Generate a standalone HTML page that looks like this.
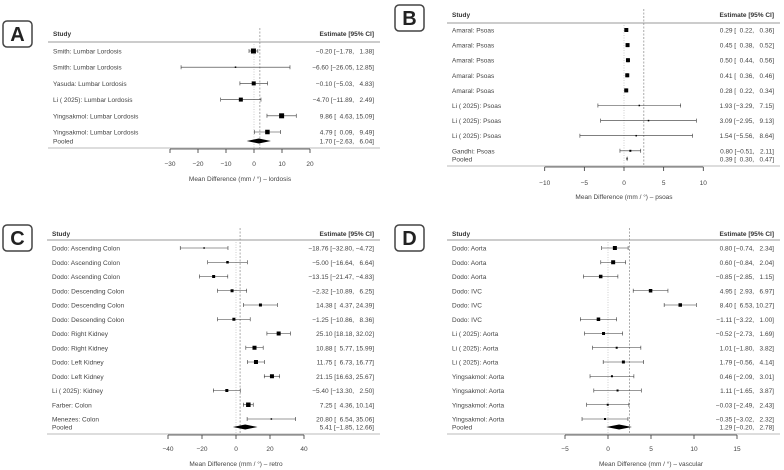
<!DOCTYPE html>
<html><head><meta charset="utf-8"><style>
body{margin:0;background:#fff;width:784px;height:470px;overflow:hidden}
svg{display:block;font-family:"Liberation Sans",sans-serif}
</style></head><body>
<svg id="chart" width="784" height="470" viewBox="0 0 784 470"></svg>
<script>
// Panel A – lordosis
const studiesA=["Smith: Lumbar Lordosis","Smith: Lumbar Lordosis","Yasuda: Lumbar Lordosis","Li ( 2025): Lumbar Lordosis","Yingsakmol: Lumbar Lordosis","Yingsakmol: Lumbar Lordosis"];
const estA=[-0.20,-6.60,-0.10,-4.70,9.86,4.79];
const loA=[-1.78,-26.05,-5.03,-11.89,4.63,0.09];
const hiA=[1.38,12.85,4.83,2.49,15.09,9.49];
const wA=[5,1.5,4,4,5,4.5];
const pooledA=[1.70,-2.63,6.04];
const ticksA=[-30,-20,-10,0,10,20];
// Panel B – psoas
const studiesB=["Amaral: Psoas","Amaral: Psoas","Amaral: Psoas","Amaral: Psoas","Amaral: Psoas","Li ( 2025): Psoas","Li ( 2025): Psoas","Li ( 2025): Psoas","Gandhi: Psoas"];
const estB=[0.29,0.45,0.50,0.41,0.28,1.93,3.09,1.54,0.80];
const loB=[0.22,0.38,0.44,0.36,0.22,-3.29,-2.95,-5.56,-0.51];
const hiB=[0.36,0.52,0.56,0.46,0.34,7.15,9.13,8.64,2.11];
const wB=[4,4,4,4,4,1.5,1.5,1.5,2];
const pooledB=[0.39,0.30,0.47];
const ticksB=[-10,-5,0,5,10];
// Panel C – retro
const studiesC=["Dodo: Ascending Colon","Dodo: Ascending Colon","Dodo: Ascending Colon","Dodo: Descending Colon","Dodo: Descending Colon","Dodo: Descending Colon","Dodo: Right Kidney","Dodo: Right Kidney","Dodo: Left Kidney","Dodo: Left Kidney","Li ( 2025): Kidney","Farber: Colon","Menezes: Colon"];
const estC=[-18.76,-5.00,-13.15,-2.32,14.38,-1.25,25.10,10.88,11.75,21.15,-5.40,7.25,20.80];
const loC=[-32.80,-16.64,-21.47,-10.89,4.37,-10.86,18.18,5.77,6.73,16.63,-13.30,4.36,6.54];
const hiC=[-4.72,6.64,-4.83,6.25,24.39,8.36,32.02,15.99,16.77,25.67,2.50,10.14,35.06];
const wC=[1.5,2.5,3,3,3,3,4,4,4,4,3,4.5,1.5];
const pooledC=[5.41,-1.85,12.66];
const ticksC=[-40,-20,0,20,40];
// Panel D – vascular
const studiesD=["Dodo: Aorta","Dodo: Aorta","Dodo: Aorta","Dodo: IVC","Dodo: IVC","Dodo: IVC","Li ( 2025): Aorta","Li ( 2025): Aorta","Li ( 2025): Aorta","Yingsakmol: Aorta","Yingsakmol: Aorta","Yingsakmol: Aorta","Yingsakmol: Aorta"];
const estD=[0.80,0.60,-0.85,4.95,8.40,-1.11,-0.52,1.01,1.79,0.46,1.11,-0.03,-0.35];
const loD=[-0.74,-0.84,-2.85,2.93,6.53,-3.22,-2.73,-1.80,-0.56,-2.09,-1.65,-2.49,-3.02];
const hiD=[2.34,2.04,1.15,6.97,10.27,1.00,1.69,3.82,4.14,3.01,3.87,2.43,2.32];
const wD=[4,4,3.5,3.5,3.5,3.5,3,2,3,2,2,2,2];
const pooledD=[1.29,-0.20,2.78];
const ticksD=[-5,0,5,10,15];

const NS="http://www.w3.org/2000/svg";
const svg=document.getElementById('chart');
function mk(tag,attrs,parent,text){const e=document.createElementNS(NS,tag);for(const k in attrs)e.setAttribute(k,attrs[k]);if(text!==undefined)e.textContent=text;(parent||svg).appendChild(e);return e;}
function fmt(v){return (v<0?'\u2212':'')+Math.abs(v).toFixed(2);}
function fmtP(v,w){let s=fmt(v);return v>=0&&Math.abs(v)<10&&w?'\u2007'+s:s;}

function panel(cfg){
  const g=mk('g',{});
  
  
  const L=cfg.left,R=cfg.right;
  const sx=v=>cfg.x0+v*cfg.ppu;
  const b=mk('rect',{x:cfg.bx,y:cfg.by,width:29,height:26,rx:4,fill:'#fff',stroke:'#444','stroke-width':1.5},g);
  
  const bt=mk('text',{x:cfg.bx+14.5,y:cfg.by+20,'font-size':20,'font-weight':'bold','text-anchor':'middle',fill:'#222'},g,cfg.letter);
  
  const h1=mk('text',{x:L+5,y:cfg.hy,'font-size':6.5,'font-weight':'bold',fill:'#333'},g,'Study');
  
  const h2=mk('text',{x:R-6,y:cfg.hy,'font-size':6.5,'font-weight':'bold','text-anchor':'end',fill:'#333'},g,'Estimate [95% CI]');
  
  mk('line',{x1:L,x2:R,y1:cfg.hl,y2:cfg.hl,stroke:'#999','stroke-width':1},g);
  mk('line',{x1:L,x2:R,y1:cfg.bl,y2:cfg.bl,stroke:'#bbb','stroke-width':1},g);
  const zl=mk('line',{x1:sx(0),x2:sx(0),y1:cfg.hl+2,y2:cfg.bl,stroke:'#bbb','stroke-width':0.7,'stroke-dasharray':'1,1.5'},g);
  
  const rl=mk('line',{x1:sx(cfg.ref),x2:sx(cfg.ref),y1:cfg.hy-8,y2:cfg.bl,stroke:'#888','stroke-width':0.7,'stroke-dasharray':'2,1.5'},g);
  
  const n=cfg.studies.length;
  for(let i=0;i<n;i++){
    const y=cfg.ry0+i*cfg.dy;
    const t=mk('text',{x:L+5,y:y+2.5,'font-size':6.5,fill:'#444'},g,cfg.studies[i]);
    
    const ci=mk('line',{x1:sx(cfg.lo[i]),x2:sx(cfg.hi[i]),y1:y,y2:y,stroke:'#333','stroke-width':0.6},g);
    
    mk('line',{x1:sx(cfg.lo[i]),x2:sx(cfg.lo[i]),y1:y-2,y2:y+2,stroke:'#333','stroke-width':0.6},g);
    mk('line',{x1:sx(cfg.hi[i]),x2:sx(cfg.hi[i]),y1:y-2,y2:y+2,stroke:'#333','stroke-width':0.6},g);
    const s=cfg.w[i];
    const sq=mk('rect',{x:sx(cfg.est[i])-s/2,y:y-s/2,width:s,height:s,fill:'#000'},g);
    
    const et=mk('text',{x:R-6,y:y+2.5,'font-size':6.5,'text-anchor':'end',fill:'#444'},g,
      fmt(cfg.est[i])+' ['+fmtP(cfg.lo[i],1)+', '+fmtP(cfg.hi[i],1)+']');
    
  }
  const py=cfg.ry0+(n-1)*cfg.dy+cfg.pgap;
  const pt=mk('text',{x:L+5,y:py+2.5,'font-size':6.5,fill:'#444'},g,'Pooled');
  
  const p=cfg.pooled;
  const d=mk('polygon',{points:`${sx(p[1])},${py} ${sx(p[0])},${py-2.5} ${sx(p[2])},${py} ${sx(p[0])},${py+2.5}`,fill:'#000'},g);
  
  const pe=mk('text',{x:R-6,y:py+2.5,'font-size':6.5,'text-anchor':'end',fill:'#444'},g,
    fmt(p[0])+' ['+fmtP(p[1],1)+', '+fmtP(p[2],1)+']');
  
  const ay=cfg.bl+1;
  const t0=cfg.ticks[0],t1=cfg.ticks[cfg.ticks.length-1];
  const ax=mk('line',{x1:sx(t0),x2:sx(t1),y1:ay,y2:ay,stroke:'#333','stroke-width':0.8},g);
  
  cfg.ticks.forEach(v=>{
    mk('line',{x1:sx(v),x2:sx(v),y1:ay,y2:ay+4,stroke:'#333','stroke-width':0.8},g);
    const tl=mk('text',{x:sx(v),y:cfg.tly,'font-size':6.5,'text-anchor':'middle',fill:'#444'},g,(v<0?'\u2212':'')+Math.abs(v));
    
  });
  const at=mk('text',{x:(sx(t0)+sx(t1))/2+cfg.tOff,y:cfg.tty,'font-size':6.5,'text-anchor':'middle',fill:'#444'},g,cfg.title);
  
}

panel({letter:'A',bx:3,by:21,left:48,right:380,hy:36,hl:42,bl:148,ry0:51,dy:16.2,pgap:9,
  x0:254,ppu:2.8,ref:2.1,studies:studiesA,est:estA,lo:loA,hi:hiA,w:wA,pooled:pooledA,ticks:ticksA,
  tly:166,tty:181,tOff:0,title:'Mean Difference (mm / \u00b0) \u2013 lordosis'});
panel({letter:'B',bx:395,by:5,left:447,right:780,hy:17,hl:23,bl:166,ry0:30,dy:15.1,pgap:8,
  x0:624,ppu:7.93,ref:2.5,studies:studiesB,est:estB,lo:loB,hi:hiB,w:wB,pooled:pooledB,ticks:ticksB,
  tly:185,tty:199,tOff:0,title:'Mean Difference (mm / \u00b0) \u2013 psoas'});
panel({letter:'C',bx:3,by:225,left:47,right:380,hy:236,hl:240,bl:434,ry0:248,dy:14.25,pgap:8,
  x0:236,ppu:1.7,ref:2.4,studies:studiesC,est:estC,lo:loC,hi:hiC,w:wC,pooled:pooledC,ticks:ticksC,
  tly:451,tty:466,tOff:0,title:'Mean Difference (mm / \u00b0) \u2013 retro'});
panel({letter:'D',bx:395,by:225,left:447,right:780,hy:236,hl:240,bl:434,ry0:248,dy:14.25,pgap:8,
  x0:608,ppu:8.6,ref:2.5,studies:studiesD,est:estD,lo:loD,hi:hiD,w:wD,pooled:pooledD,ticks:ticksD,
  tly:451,tty:466,tOff:0,title:'Mean Difference (mm / \u00b0) \u2013 vascular'});
</script>
</body></html>
